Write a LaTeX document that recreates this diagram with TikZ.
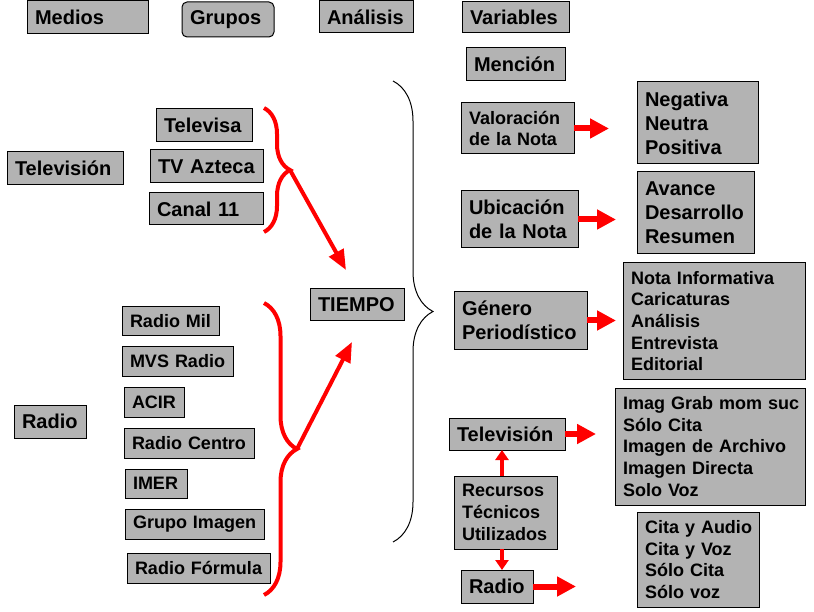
\documentclass[tikz,border=0pt]{standalone}
\usepackage{fontspec}
\setmainfont{Liberation Sans}
\usetikzlibrary{arrows.meta,decorations.pathreplacing}
\definecolor{boxgray}{RGB}{179,179,179}
\tikzset{
  box/.style={draw, line width=1pt, fill=boxgray, anchor=north west, align=left,
    inner xsep=8pt, inner ysep=0pt, outer sep=0pt, font=\fontsize{20}{24}\selectfont\bfseries,
    execute at begin node={\hyphenpenalty=10000\exhyphenpenalty=10000}},
  smallbox/.style={box, font=\fontsize{18}{21.7}\selectfont\bfseries},
  bigarrow/.style={red, line width=6pt, -{Triangle[width=19pt,length=19pt]}},
  smallarrow/.style={red, line width=4pt, -{Triangle[width=13pt,length=10pt]}},
  diagarrow/.style={red, line width=4pt, -{Triangle[width=16pt,length=20pt]}},
  redbrace/.style={red, line width=4pt, decorate},
  blackbrace/.style={black, line width=1pt, decorate, decoration={brace, amplitude=40pt}}
}
\begin{document}
\begin{tikzpicture}[x=1pt, y=-1pt]
    \fill[white] (0,0) rectangle (814,612);
    \useasboundingbox (0,0) rectangle (814,612);
    % headers
    \node[box, text width=105pt, minimum height=33pt] (medios) at (27,1) {Medios};
    \node[box, rounded corners=5pt, text width=76pt, minimum height=35pt] (grupos) at (182,2) {Grupos};
    \node[box, text width=78pt, minimum height=32pt] (analisis) at (319,1) {Análisis};
    \node[box, text width=91pt, minimum height=31pt] (variables) at (462,2) {Variables};
    % media and groups
    \node[box, text width=100pt, minimum height=33pt] (tvleft) at (7,152) {Televisión};
    \node[box, text width=56pt, minimum height=33pt] (radioleft) at (14,405) {Radio};
    \node[box, text width=80pt, minimum height=33pt] (televisa) at (156,109) {Televisa};
    \node[box, text width=97pt, minimum height=33pt] (tvazteca) at (150,150) {TV~Azteca};
    \node[box, text width=98pt, minimum height=32pt] (canal) at (149,193) {Canal~11};
    \node[smallbox, text width=81pt, minimum height=29pt] (radiomil) at (122,307) {Radio~Mil};
    \node[smallbox, text width=95pt, minimum height=29pt] (mvs) at (122,347) {MVS~Radio};
    \node[smallbox, text width=44pt, minimum height=30pt] (acir) at (124,387) {ACIR};
    \node[smallbox, text width=114pt, minimum height=30pt] (centro) at (124,428) {Radio~Centro};
    \node[smallbox, text width=46pt, minimum height=29pt] (imer) at (125,469) {IMER};
    \node[smallbox, text width=123pt, minimum height=30pt] (grupoimagen) at (125,509) {Grupo~Imagen};
    \node[smallbox, text width=127pt, minimum height=30pt] (formula) at (127,553) {Radio~Fórmula};
    \node[box, text width=78pt, minimum height=32pt] (tiempo) at (310,289) {TIEMPO};
    % variables
    \node[box, text width=83pt, minimum height=33pt] (mencion) at (466,48) {Mención};
    \node[smallbox, text width=97pt, minimum height=51pt] (valoracion) at (461,103) {Valoración\\de~la~Nota};
    \node[box, text width=101pt, minimum height=57pt] (ubicacion) at (461,191) {Ubicación\\de~la~Nota};
    \node[box, text width=117pt, minimum height=57pt] (genero) at (454,292) {Género\\Periodístico};
    \node[box, text width=100pt, minimum height=32pt] (tvright) at (449,418) {Televisión};
    \node[smallbox, text width=87pt, minimum height=73pt] (recursos) at (454,476) {Recursos\\Técnicos\\Utilizados};
    \node[box, text width=56pt, minimum height=33pt] (radioright) at (461,570) {Radio};
    % values
    \node[box, text width=105pt, minimum height=82pt] (negativa) at (637,82) {Negativa\\Neutra\\Positiva};
    \node[box, text width=101pt, minimum height=82pt] (avance) at (637,172) {Avance\\Desarrollo\\Resumen};
    \node[smallbox, text width=166pt, minimum height=116pt] (notainf) at (623,263) {Nota~Informativa\\Caricaturas\\Análisis\\Entrevista\\Editorial};
    \node[smallbox, text width=174pt, minimum height=117pt] (imag) at (615,388) {Imag~Grab~mom~suc\\Sólo~Cita\\Imagen~de~Archivo\\Imagen~Directa\\Solo~Voz};
    \node[smallbox, text width=106pt, minimum height=95pt] (cita) at (637,512) {Cita~y~Audio\\Cita~y~Voz\\Sólo~Cita\\Sólo~voz};
    % braces
    \draw[redbrace, decoration={brace, amplitude=26pt}] (264,108) -- (264,232);
    \draw[redbrace, decoration={brace, amplitude=33pt}] (264,303) -- (264,595);
    \draw[blackbrace] (393,81) -- (393,542);
    \coordinate (tvtip) at (290,170);
    \coordinate (radiotip) at (297,449);
    \coordinate (tvhead) at (346,270);
    \coordinate (radiohead) at (352,342);
    \draw[diagarrow] (tvtip) -- (tvhead);
    \draw[diagarrow] (radiotip) -- (radiohead);
    % arrows to the values
    \draw[bigarrow, shorten >=28pt] (valoracion.east) -- (valoracion.east -| negativa.west);
    \draw[bigarrow, shorten >=21pt] (ubicacion.east) -- (ubicacion.east -| avance.west);
    \draw[bigarrow, shorten >=7pt] (genero.east) -- (genero.east -| notainf.west);
    \draw[bigarrow, shorten >=19pt] (tvright.east) -- (tvright.east -| imag.west);
    \draw[bigarrow, shorten >=61pt] (radioright.east) -- (radioright.east -| cita.west);
    \draw[smallarrow] ([xshift=-3.5pt]recursos.north) -- ([xshift=-3.5pt]recursos.north |- tvright.south);
    \draw[smallarrow] ([xshift=-3.5pt]recursos.south) -- ([xshift=-3.5pt]recursos.south |- radioright.north);
\end{tikzpicture}
\end{document}
